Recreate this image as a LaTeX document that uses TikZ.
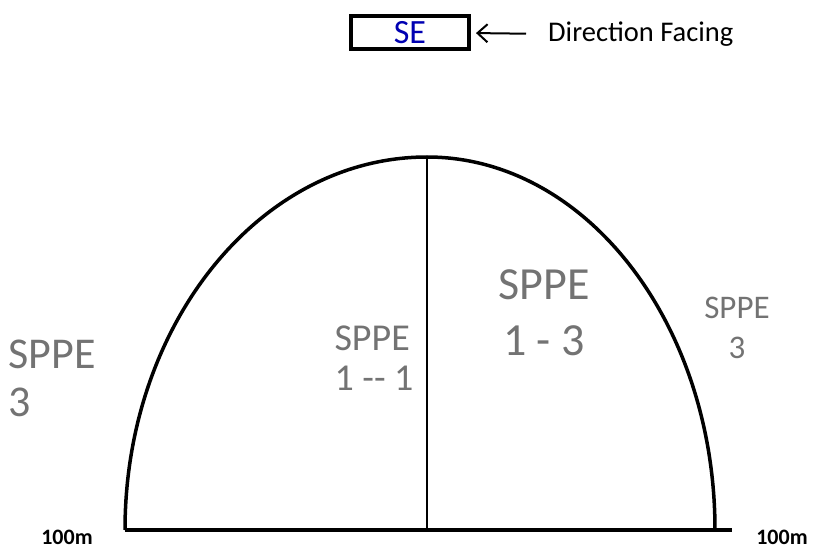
\documentclass[tikz,border=0pt]{standalone}
\usepackage{fontspec}
\setmainfont{Carlito}
\usetikzlibrary{positioning, arrows.meta}

\begin{document}
\begin{tikzpicture}[
    x=1pt, y=1pt,
    >={Straight Barb[length=10pt, width=18pt]},
    facingbox/.style={
        draw, rectangle, line width=4pt, minimum width=118, minimum height=33,
        inner sep=0pt, text=blue!70!black, font=\fontsize{34}{34}\selectfont
    },
    scrawl/.style n args={2}{
        text=black!55, inner sep=0pt, font=\fontsize{#1}{#2}\selectfont
    },
    distlabel/.style={font=\fontsize{22}{22}\selectfont\bfseries, inner sep=0pt}
]

\useasboundingbox (0,0) rectangle (817,550);

% -------------------------
% Direction facing box
% -------------------------
\node[facingbox] (sebox) at (410, 517) {SE};
\node[font=\fontsize{28.5}{28.5}\selectfont, anchor=west, inner sep=0pt] (facing) at (548, 516) {Direction Facing};

\draw[->, line width=2pt, shorten <=22pt, shorten >=5pt] (facing.west) -- (sebox.east);

% -------------------------
% Arch outline
% -------------------------
\coordinate (baseL) at (125, 20);
\coordinate (baseR) at (715, 20);
\coordinate (baseEnd) at (732, 20);
\coordinate (crown) at (427, 393);
\coordinate (baseC) at (427, 20);

\draw[line width=3.5pt] (baseL) arc[start angle=180, end angle=90, x radius=302, y radius=373]
    arc[start angle=90, end angle=0, x radius=288, y radius=373];
\draw[line width=3.5pt] (baseL) -- (baseEnd);
\draw[line width=1.8pt] (baseC) -- (crown);

% -------------------------
% Distance labels
% -------------------------
\node[distlabel] (distL) at (67, 13) {100m};
\node[distlabel] (distR) at (782, 13) {100m};

% -------------------------
% Zone labels
% -------------------------
\node[scrawl={44}{48}, align=left] (zoneL) at (52, 172) {SPPE\\3};
\node[scrawl={38}{40}, align=left] (zoneA) at (374, 192) {SPPE\\1 -{}- 1};
\node[scrawl={46}{56}, align=center] (zoneB) at (544, 237) {SPPE\\1 - 3};
\node[scrawl={33}{40}, align=center] (zoneR) at (737, 222) {SPPE\\3};

\end{tikzpicture}
\end{document}
